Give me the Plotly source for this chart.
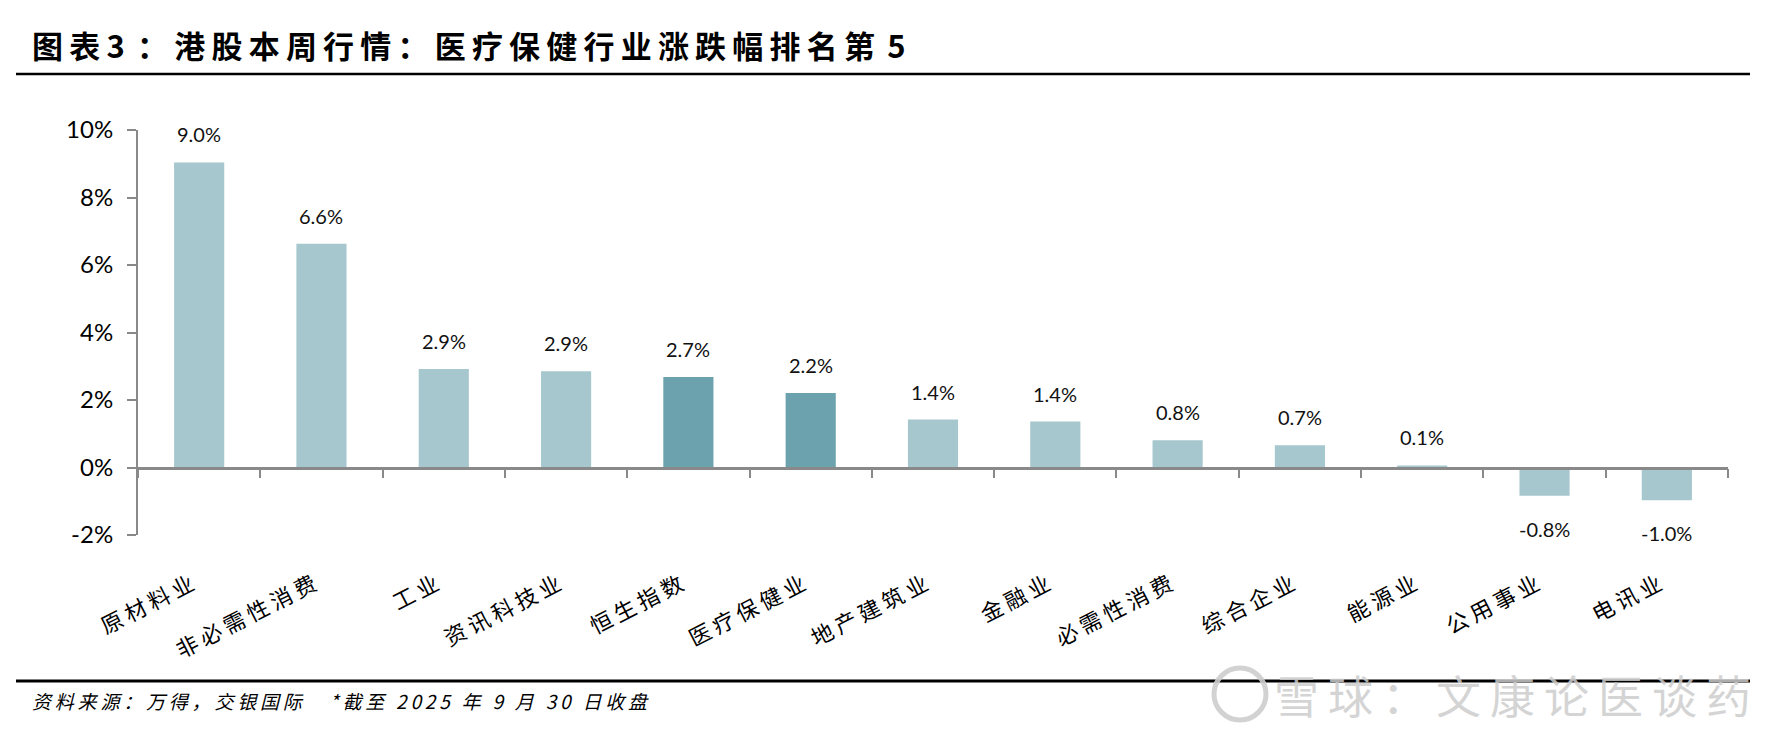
import plotly.graph_objects as go

categories = ["原材料业", "非必需性消费", "工业", "资讯科技业", "恒生指数", "医疗保健业",
              "地产建筑业", "金融业", "必需性消费", "综合企业", "能源业", "公用事业", "电讯业"]
values = [9.04, 6.63, 2.92, 2.85, 2.68, 2.21, 1.42, 1.36, 0.81, 0.66, 0.06, -0.84, -0.97]
highlight = ["恒生指数", "医疗保健业"]
y_ticks = [-2, 0, 2, 4, 6, 8, 10]
y_tick_labels = ["-2%", "0%", "2%", "4%", "6%", "8%", "10%"]
title_text = "图表3：港股本周行情：医疗保健行业涨跌幅排名第5"
source_text = "资料来源：万得，交银国际   *截至 2025 年 9 月 30 日收盘"
watermark_text = "雪球：文康论医谈药"

LIGHT = "#A6C7CD"
DARK = "#6BA2AD"
AXIS = "#898989"
CJK = "Noto Sans CJK SC"
NUM = "Lato, Noto Sans CJK SC"

# page offset (browser body margin) compensation
OFF = 8
W, H = 1792, 752
L, R, T, B = 138, 1728, 130, 535


def px_x(p):
    return (p - L) / (R - L)


def px_y(p):
    return (B - p) / (B - T)


def spaced(s, sep="\u2009"):
    return sep.join(s)


colors = [DARK if c in highlight else LIGHT for c in categories]

fig = go.Figure()
fig.add_trace(go.Bar(x=categories, y=values, marker=dict(color=colors, line=dict(width=0)),
                     width=0.41, hoverinfo="skip", showlegend=False))
fig.add_trace(go.Scatter(x=categories, y=values, xaxis="x2", mode="markers",
                         marker=dict(opacity=0), hoverinfo="skip", showlegend=False))

annotations = []
for c, v in zip(categories, values):
    annotations.append(dict(x=c, y=v, xref="x", yref="y", text=f"{v:.1f}%", showarrow=False,
                            yanchor="bottom" if v >= 0 else "top",
                            yshift=14 if v >= 0 else -19,
                            font=dict(family=NUM, size=20, color="#111")))

annotations.append(dict(x=px_x(30), y=px_y(44), xref="paper", yref="paper", xanchor="left",
                        yanchor="middle", showarrow=False,
                        text="<b>" + spaced(title_text).replace("3\u2009", "3\u2009\u2009").replace("\u20095", "\u2009\u20095") + "</b>",
                        font=dict(family=CJK, size=31, color="#000")))
annotations.append(dict(x=px_x(30), y=px_y(700), xref="paper", yref="paper", xanchor="left",
                        yanchor="middle", showarrow=False,
                        text="<i>" + spaced(source_text) + "</i>",
                        font=dict(family=CJK, size=19, color="#000")))
annotations.append(dict(x=px_x(1272), y=px_y(694), xref="paper", yref="paper", xanchor="left",
                        yanchor="middle", showarrow=False,
                        text=spaced(watermark_text),
                        font=dict(family=CJK, size=45, color="rgba(205,205,205,0.85)")))

shapes = [
    dict(type="line", xref="paper", yref="paper", x0=px_x(16), x1=px_x(1750),
         y0=px_y(74), y1=px_y(74), line=dict(color="#000", width=2.5)),
    dict(type="line", xref="paper", yref="paper", x0=px_x(16), x1=px_x(1750),
         y0=px_y(681), y1=px_y(681), line=dict(color="#000", width=3)),
    dict(type="circle", xref="paper", yref="paper", x0=px_x(1214), x1=px_x(1266),
         y0=px_y(720), y1=px_y(668), line=dict(color="rgba(205,205,205,0.9)", width=5)),
]

fig.update_layout(
    width=W - OFF, height=H - OFF,
    margin=dict(l=L - OFF, r=W - R, t=T - OFF, b=H - B, autoexpand=False),
    paper_bgcolor="white", plot_bgcolor="white",
    annotations=annotations,
    shapes=shapes,
    yaxis=dict(range=[-2, 10], tickvals=y_ticks, ticktext=y_tick_labels,
               ticks="outside", ticklen=9,
               tickcolor=AXIS, tickwidth=2, showline=True, linecolor=AXIS, linewidth=2,
               showgrid=False, zeroline=False, ticklabelstandoff=9,
               tickfont=dict(family=NUM, size=24, color="#000")),
    xaxis=dict(type="category", range=[-0.5, len(categories) - 0.5], anchor="free",
               position=2 / 12, showline=True, linecolor=AXIS, linewidth=2.5,
               ticks="outside", tickson="boundaries", ticklen=9, tickcolor=AXIS, tickwidth=2,
               showticklabels=False, showgrid=False, zeroline=False),
    xaxis2=dict(type="category", overlaying="x", anchor="y", side="bottom",
                range=[-0.5, len(categories) - 0.5], showline=False, ticks="",
                tickvals=categories, ticktext=[spaced(c) for c in categories],
                showgrid=False, zeroline=False, tickangle=-27, ticklabelstandoff=32,
                ticklabelshift=-8,
                tickfont=dict(family=CJK, size=22, color="#000")),
)

fig.write_html("out.html")
